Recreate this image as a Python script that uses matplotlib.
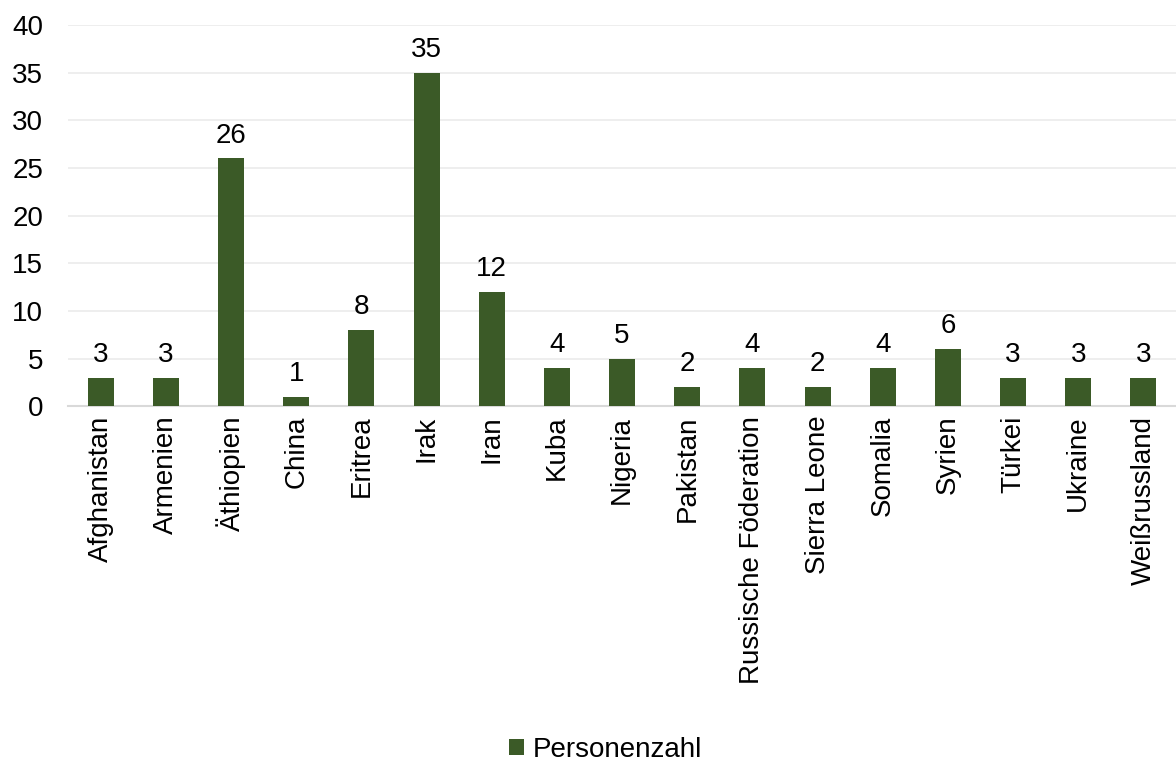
import matplotlib
matplotlib.use("Agg")
import matplotlib.pyplot as plt

categories = ["Afghanistan", "Armenien", "Äthiopien", "China", "Eritrea", "Irak", "Iran",
              "Kuba", "Nigeria", "Pakistan", "Russische Föderation", "Sierra Leone",
              "Somalia", "Syrien", "Türkei", "Ukraine", "Weißrussland"]
values = [3, 3, 26, 1, 8, 35, 12, 4, 5, 2, 4, 2, 4, 6, 3, 3, 3]
series_name = "Personenzahl"
yticks = [0, 5, 10, 15, 20, 25, 30, 35, 40]

plt.rcParams['font.family'] = ['Liberation Sans', 'DejaVu Sans']
fig = plt.figure(figsize=(11.76, 7.62), dpi=100)
ax = fig.add_axes([0.058, 0.467, 0.942, 0.5])

x = list(range(len(categories)))
color = "#3B5A27"
bars = ax.bar(x, values, width=0.4, color=color, label=series_name, zorder=3)
for xi, v in zip(x, values):
    ax.annotate(str(v), (xi, v), xytext=(0, 7), textcoords='offset points',
                ha='center', va='bottom', fontsize=20, color='#000000')

ax.set_xlim(-0.5, len(categories) - 0.5)
ax.set_ylim(0, 40)
ax.set_yticks(yticks)
ax.set_yticklabels([str(t) for t in yticks], fontsize=20)
ax.set_xticks(x)
ax.set_xticklabels(categories, rotation=90, fontsize=20)
ax.tick_params(axis='x', length=0, pad=7)
ax.tick_params(axis='y', length=0, pad=18)
ax.grid(axis='y', color='#EBEBEB', linewidth=1.2, zorder=0)
for s in ['top', 'right', 'left']:
    ax.spines[s].set_visible(False)
ax.spines['bottom'].set_color('#D9D9D9')
ax.spines['bottom'].set_linewidth(1.5)

fig.legend(handles=[bars], labels=[series_name], loc='lower center', bbox_to_anchor=(0.515, -0.034),
           frameon=False, fontsize=20, handlelength=0.55, handleheight=0.55, handletextpad=0.3)

fig.savefig("out.png", dpi=100)
